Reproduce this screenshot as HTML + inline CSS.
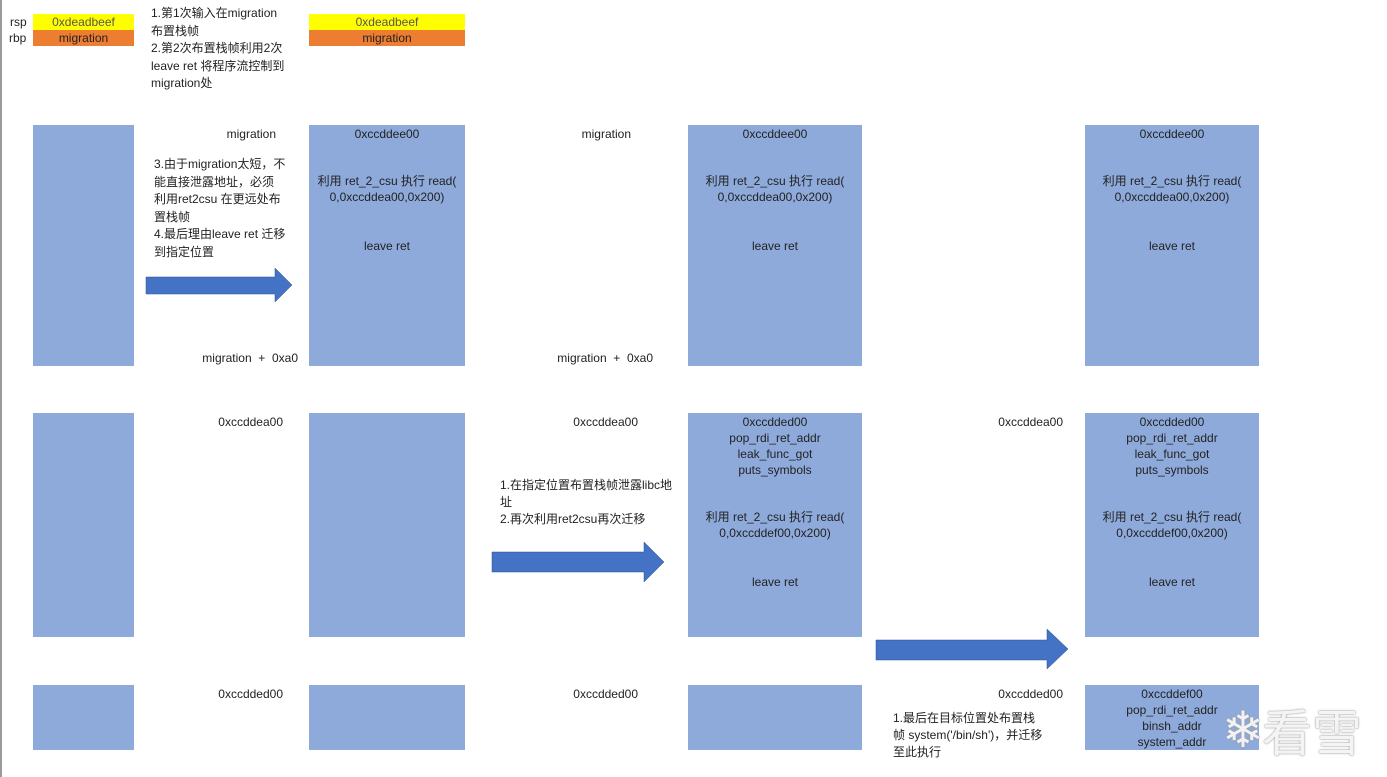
<!DOCTYPE html>
<html><head><meta charset="utf-8"><style>
html,body{margin:0;padding:0;background:#fff;}
body{width:1387px;height:777px;position:relative;overflow:hidden;font-family:"Liberation Sans","Noto Sans CJK SC",sans-serif;font-size:12px;color:#222;}
.b{position:absolute;background:#8eaadb;}
.t{position:absolute;line-height:16px;white-space:nowrap;}
.c{position:absolute;line-height:16px;white-space:nowrap;text-align:center;}
.r{position:absolute;line-height:16px;white-space:nowrap;text-align:right;}
.n{position:absolute;line-height:16px;white-space:nowrap;}
</style></head><body>
<div style="position:absolute;left:0;top:0;width:2px;height:777px;background:#9a9a9a"></div>

<div class="t" style="left:10px;top:14px">rsp</div>
<div class="t" style="left:9px;top:30px">rbp</div>
<div class="c" style="left:33px;top:14px;width:101px;height:16px;background:#ffff00;color:#555">0xdeadbeef</div>
<div class="c" style="left:33px;top:30px;width:101px;height:16px;background:#ed7d31">migration</div>
<div class="c" style="left:309px;top:14px;width:156px;height:16px;background:#ffff00;color:#555">0xdeadbeef</div>
<div class="c" style="left:309px;top:30px;width:156px;height:16px;background:#ed7d31">migration</div>
<div class="n" style="left:151px;top:5px;line-height:17.5px">1.第1次输入在migration<br>布置栈帧<br>2.第2次布置栈帧利用2次<br>leave ret 将程序流控制到<br>migration处</div>

<div class="b" style="left:33px;top:125px;width:101px;height:241px"></div>
<div class="b" style="left:33px;top:413px;width:101px;height:224px"></div>
<div class="b" style="left:33px;top:685px;width:101px;height:65px"></div>
<div class="b" style="left:309px;top:125px;width:156px;height:241px"></div>
<div class="b" style="left:309px;top:413px;width:156px;height:224px"></div>
<div class="b" style="left:309px;top:685px;width:156px;height:65px"></div>
<div class="b" style="left:688px;top:125px;width:174px;height:241px"></div>
<div class="b" style="left:688px;top:413px;width:174px;height:224px"></div>
<div class="b" style="left:688px;top:685px;width:174px;height:65px"></div>
<div class="b" style="left:1085px;top:125px;width:174px;height:241px"></div>
<div class="b" style="left:1085px;top:413px;width:174px;height:224px"></div>
<div class="b" style="left:1085px;top:685px;width:174px;height:65px"></div>

<div class="c" style="left:309px;width:156px;top:126px">0xccddee00</div>
<div class="c" style="left:309px;width:156px;top:173px">利用 ret_2_csu 执行 read(<br>0,0xccddea00,0x200)</div>
<div class="c" style="left:309px;width:156px;top:238px">leave ret</div>
<div class="c" style="left:688px;width:174px;top:126px">0xccddee00</div>
<div class="c" style="left:688px;width:174px;top:173px">利用 ret_2_csu 执行 read(<br>0,0xccddea00,0x200)</div>
<div class="c" style="left:688px;width:174px;top:238px">leave ret</div>
<div class="c" style="left:1085px;width:174px;top:126px">0xccddee00</div>
<div class="c" style="left:1085px;width:174px;top:173px">利用 ret_2_csu 执行 read(<br>0,0xccddea00,0x200)</div>
<div class="c" style="left:1085px;width:174px;top:238px">leave ret</div>

<div class="c" style="left:688px;width:174px;top:414px">0xccdded00<br>pop_rdi_ret_addr<br>leak_func_got<br>puts_symbols</div>
<div class="c" style="left:688px;width:174px;top:509px">利用 ret_2_csu 执行 read(<br>0,0xccddef00,0x200)</div>
<div class="c" style="left:688px;width:174px;top:574px">leave ret</div>
<div class="c" style="left:1085px;width:174px;top:414px">0xccdded00<br>pop_rdi_ret_addr<br>leak_func_got<br>puts_symbols</div>
<div class="c" style="left:1085px;width:174px;top:509px">利用 ret_2_csu 执行 read(<br>0,0xccddef00,0x200)</div>
<div class="c" style="left:1085px;width:174px;top:574px">leave ret</div>

<div class="c" style="left:1085px;width:174px;top:686px">0xccddef00<br>pop_rdi_ret_addr<br>binsh_addr<br>system_addr</div>

<div class="r" style="right:1111px;top:126px">migration</div>
<div class="r" style="right:1089px;top:350px">migration&nbsp; + &nbsp;0xa0</div>
<div class="r" style="right:1104px;top:414px">0xccddea00</div>
<div class="r" style="right:1104px;top:686px">0xccdded00</div>
<div class="r" style="right:756px;top:126px">migration</div>
<div class="r" style="right:734px;top:350px">migration&nbsp; + &nbsp;0xa0</div>
<div class="r" style="right:749px;top:414px">0xccddea00</div>
<div class="r" style="right:749px;top:686px">0xccdded00</div>
<div class="r" style="right:324px;top:414px">0xccddea00</div>
<div class="r" style="right:324px;top:686px">0xccdded00</div>

<div class="n" style="left:154px;top:156px;line-height:17.5px">3.由于migration太短，不<br>能直接泄露地址，必须<br>利用ret2csu 在更远处布<br>置栈帧<br>4.最后理由leave ret 迁移<br>到指定位置</div>
<div class="n" style="left:500px;top:477px;line-height:17px">1.在指定位置布置栈帧泄露libc地<br>址<br>2.再次利用ret2csu再次迁移</div>
<div class="n" style="left:893px;top:710px;line-height:17px">1.最后在目标位置处布置栈<br>帧 system('/bin/sh')，并迁移<br>至此执行</div>

<svg style="position:absolute;left:0;top:0" width="1387" height="777">
<polygon points="146,277 275,277 275,268 292,285 275,302 275,294 146,294" fill="#4472c4" stroke="#2f528f" stroke-width="0.5"/>
<polygon points="492,552 644,552 644,542 664,562 644,582 644,572 492,572" fill="#4472c4" stroke="#2f528f" stroke-width="0.5"/>
<polygon points="876,640 1047,640 1047,629 1068,649 1047,669 1047,660 876,660" fill="#4472c4" stroke="#2f528f" stroke-width="0.5"/>
</svg>

<div class="t" style="left:1222px;top:702px;font-size:50px;line-height:56px;color:#f2f2f2;text-shadow:0 0 2px #999,0 0 1px #aaa">❄</div>
<div class="t" style="left:1262px;top:700px;font-size:50px;line-height:60px;color:#f4f4f4;text-shadow:0 0 2px #999,0 0 1px #aaa;font-family:'Noto Sans CJK SC',sans-serif">看雪</div>
</body></html>
